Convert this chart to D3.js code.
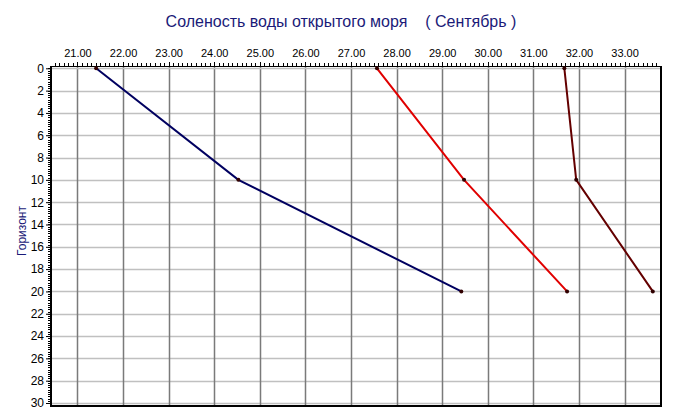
<!DOCTYPE html>
<html><head><meta charset="utf-8">
<script src="https://cdn.jsdelivr.net/npm/d3@7"></script>
<style>
body{margin:0;background:#fff;}
svg text{font-family:Arial,"Liberation Sans",sans-serif;}
</style></head>
<body><svg id="c" width="675" height="419"></svg>
<script>
const title = "Соленость воды открытого моря    ( Сентябрь )";
const yLabel = "Горизонт";
const depths = [0, 10, 20];
const seriesBlue = [21.41, 24.53, 29.42];
const seriesRed = [27.57, 29.48, 31.74];
const seriesDark = [31.68, 31.94, 33.62];
const xTicks = [21,22,23,24,25,26,27,28,29,30,31,32,33];
const yTicks = [0,2,4,6,8,10,12,14,16,18,20,22,24,26,28,30];

const series = [
  {values: seriesBlue, color: "#000060"},
  {values: seriesRed, color: "#e00000"},
  {values: seriesDark, color: "#640000"}
];

const svg = d3.select("#c");
const L = 51, R = 661, T = 66, B = 406;
const x = d3.scaleLinear().domain([20.42, 33.8]).range([L, R]);
const y = d3.scaleLinear().domain([0, 30]).range([68.3, 403]);

svg.append("text").attr("x", 341).attr("y", 27).attr("text-anchor", "middle")
  .attr("font-size", 16).attr("fill", "#1a1a78").style("white-space", "pre").text(title);

svg.append("text").attr("transform", "translate(26,231) rotate(-90)")
  .attr("text-anchor", "middle").attr("font-size", 12).attr("fill", "#1a1a78").text(yLabel);

// grid
const g = svg.append("g");
g.selectAll(".hg").data(yTicks.filter(d => d > 0)).join("line")
  .attr("x1", L).attr("x2", R).attr("y1", d => Math.round(y(d)) + 0.5).attr("y2", d => Math.round(y(d)) + 0.5)
  .attr("stroke", "#c0c0c0").attr("stroke-width", 1.5);
g.selectAll(".vg").data(xTicks).join("line")
  .attr("y1", T).attr("y2", B).attr("x1", d => Math.round(x(d)) + 0.5).attr("x2", d => Math.round(x(d)) + 0.5)
  .attr("stroke", "#7a7a7a").attr("stroke-width", 1.5);
g.append("line").attr("x1", L).attr("x2", R).attr("y1", Math.round(y(0)) + 0.5).attr("y2", Math.round(y(0)) + 0.5)
  .attr("stroke", "#c0c0c0").attr("stroke-width", 1.5);

// top axis
const topAxis = d3.axisTop(x).tickValues(xTicks).tickFormat(d3.format(".2f")).tickSize(0).tickPadding(9);
const ta = svg.append("g").attr("transform", `translate(0,${T})`).call(topAxis);
ta.select(".domain").remove();
ta.selectAll("text").attr("font-size", 11).attr("fill", "#000");
const minorX = d3.range(205, 338).map(v => v / 10);
svg.append("g").selectAll("line").data(minorX).join("line")
  .attr("x1", d => Math.round(x(d)) + 0.5).attr("x2", d => Math.round(x(d)) + 0.5)
  .attr("y1", T).attr("y2", d => T - (Math.abs(d - Math.round(d)) < 1e-6 ? 4 : 3))
  .attr("stroke", "#000").attr("stroke-width", 1);

// left axis
const leftAxis = d3.axisLeft(y).tickValues(yTicks).tickSize(5).tickPadding(2);
const la = svg.append("g").attr("transform", `translate(${L},0)`).call(leftAxis);
la.select(".domain").remove();
la.selectAll("text").attr("font-size", 12).attr("fill", "#000");
const minorY = d3.range(0, 151).map(v => v / 5);
svg.append("g").selectAll("line").data(minorY).join("line")
  .attr("y1", d => Math.round(y(d)) + 0.5).attr("y2", d => Math.round(y(d)) + 0.5)
  .attr("x1", L).attr("x2", L - 3).attr("stroke", "#000");

// frame
svg.append("line").attr("x1", L).attr("x2", R + 1).attr("y1", T + 0.5).attr("y2", T + 0.5).attr("stroke", "#000").attr("stroke-width", 1);
svg.append("line").attr("x1", L).attr("x2", L).attr("y1", T).attr("y2", B + 1).attr("stroke", "#000").attr("stroke-width", 2);
svg.append("line").attr("x1", L).attr("x2", R + 1).attr("y1", B).attr("y2", B).attr("stroke", "#000").attr("stroke-width", 2);
svg.append("line").attr("x1", R).attr("x2", R).attr("y1", T).attr("y2", B + 1).attr("stroke", "#000").attr("stroke-width", 2);

// series
const line = d3.line().x(d => x(d[0])).y(d => y(d[1]));
series.forEach(s => {
  const pts = s.values.map((v, i) => [v, depths[i]]);
  svg.append("path").attr("d", line(pts)).attr("fill", "none")
    .attr("stroke", s.color).attr("stroke-width", 2);
  svg.append("g").selectAll("circle").data(pts).join("circle")
    .attr("cx", d => x(d[0])).attr("cy", d => y(d[1])).attr("r", 2)
    .attr("fill", "#300000");
});
</script></body></html>
